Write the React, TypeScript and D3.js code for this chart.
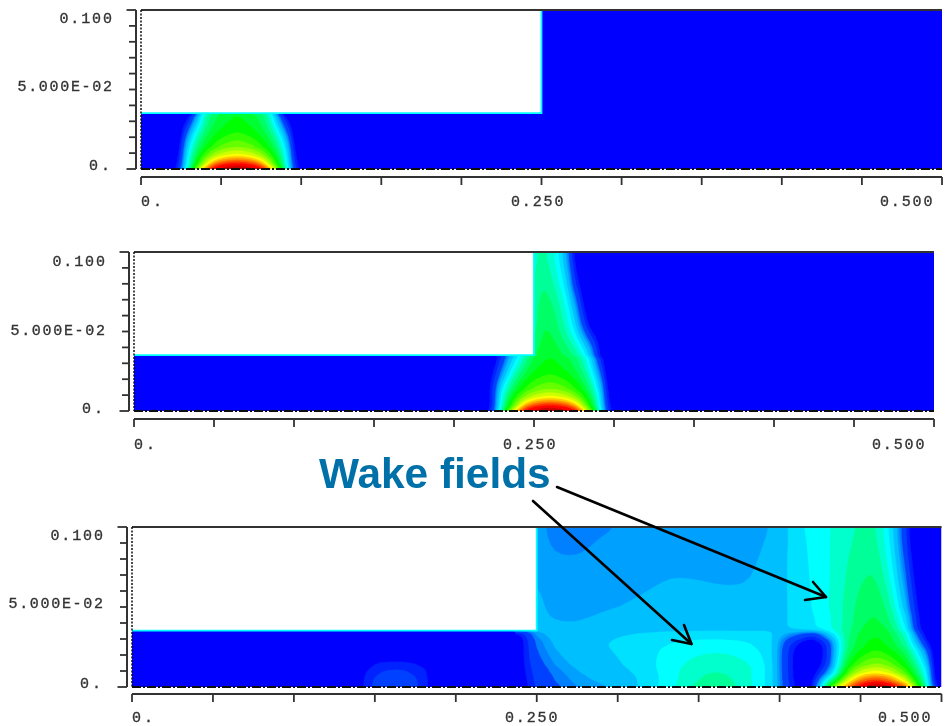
import React from "react";
import * as d3 from "d3";

const WIDTH = 945;
const HEIGHT = 726;

// contour levels (field units) and their fill colours
const levelThresholds = [0.5, 1, 2, 2.5, 3, 4, 5, 6, 7, 8, 9, 10, 11, 12, 13, 14, 15, 16, 17, 18, 19, 20, 21];
const levelColors = ["#0020ff", "#0040ff", "#0080ff", "#00a0ff", "#00bfff", "#00e0ff", "#00ffff", "#00ffcc", "#00ff99", "#00ff66", "#00ff33", "#00ff00", "#33ff00", "#66ff00", "#99ff00", "#ccff00", "#ffff00", "#ffcc00", "#ff9900", "#ff6600", "#ff3300", "#ff0000", "#cc0000"];
const baseColor = "#0000ff";

const xTickValues = [0, 0.05, 0.1, 0.15, 0.2, 0.25, 0.3, 0.35, 0.4, 0.45, 0.5];
const yTickValues = [0, 0.01, 0.02, 0.03, 0.04, 0.05, 0.06, 0.07, 0.08, 0.09, 0.1];

// panel 1: pulse near the left end, under the step
const p1X = [0.02, 0.025, 0.03, 0.035, 0.04, 0.045, 0.05, 0.055, 0.06, 0.065, 0.07, 0.075, 0.08, 0.085, 0.09, 0.095, 0.1];
const p1Y = [0, 0.0019, 0.0038, 0.0063, 0.0088, 0.0138, 0.0226, 0.0327, 0.0352];
const p1Z = [
  [0, 1.5, 7.5, 13, 17.5, 20.8, 21.2, 21.6, 21.8, 21.6, 21.2, 20.8, 17.5, 13, 7.5, 1.5, 0],
  [0, 1.2, 7, 11.8, 15.5, 19.3, 20.5, 21, 21.2, 21, 20.5, 19.3, 15.5, 11.8, 7, 1.2, 0],
  [0, 1, 6.5, 10.6, 14, 17.2, 19, 19.7, 20, 19.7, 19, 17.2, 14, 10.6, 6.5, 1, 0],
  [0, 0.8, 6.2, 10, 12.8, 15, 16.3, 17.2, 17.5, 17.2, 16.3, 15, 12.8, 10, 6.2, 0.8, 0],
  [0, 0.6, 5.8, 9.3, 11.7, 13.6, 14.7, 15.2, 15.5, 15.2, 14.7, 13.6, 11.7, 9.3, 5.8, 0.6, 0],
  [0, 0.3, 5, 8.2, 10, 11.2, 12.2, 12.7, 13, 12.7, 12.2, 11.2, 10, 8.2, 5, 0.3, 0],
  [0, 0, 2.5, 6.3, 8.5, 9.6, 10.3, 10.7, 11, 10.7, 10.3, 9.6, 8.5, 6.3, 2.5, 0, 0],
  [0, 0, 0, 2.5, 6.8, 8.5, 9.3, 9.7, 10, 9.7, 9.3, 8.5, 6.8, 2.5, 0, 0, 0],
  [0, 0, 0, 2, 6.4, 8.2, 9, 9.5, 9.8, 9.5, 9, 8.2, 6.4, 2, 0, 0, 0],
];

// panel 2: pulse at the step, field leaning into the wide section
const p2X = [0.22, 0.225, 0.23, 0.235, 0.24, 0.245, 0.25, 0.255, 0.26, 0.265, 0.27, 0.275, 0.28, 0.285, 0.29, 0.295, 0.3];
const p2Y = [0, 0.0019, 0.0038, 0.0063, 0.0088, 0.0138, 0.0226, 0.0327, 0.0352, 0.0503, 0.0648, 0.0799, 0.1];
const p2Z = [
  [0, 1.5, 7.5, 13, 17.5, 20.8, 21.2, 21.6, 21.8, 21.6, 21.2, 20.8, 17.5, 13, 7.5, 1.5, 0],
  [0, 1.2, 7, 11.8, 15.5, 19.3, 20.5, 21, 21.2, 21, 20.5, 19.3, 15.5, 11.8, 7, 1.2, 0],
  [0, 1, 6.5, 10.6, 14, 17.2, 19, 19.7, 20, 19.7, 19, 17.2, 14, 10.6, 6.5, 1, 0],
  [0, 1, 6.2, 10, 12.8, 15, 16.3, 17.2, 17.5, 17.2, 16.3, 15, 12.8, 10, 6.2, 0.8, 0],
  [0, 1, 5.8, 9.3, 11.7, 13.6, 14.7, 15.2, 15.5, 15.2, 14.7, 13.6, 11.7, 9.3, 5.8, 0.6, 0],
  [0, 1, 5, 8, 10, 11.2, 12.2, 12.7, 13, 12.7, 12.2, 11.2, 10, 8.2, 5, 0.5, 0],
  [0, 0.5, 2.5, 5.5, 8, 9.5, 10.3, 10.7, 11, 10.7, 10.3, 9.6, 8.5, 6.5, 3, 0, 0],
  [0, 0, 1, 3, 5.2, 7.5, 9.2, 9.7, 10, 9.7, 9.2, 8.5, 7, 4.5, 1, 0, 0],
  [0, 0, 0.8, 3, 5, 7.2, 9, 9.5, 9.8, 9.5, 9, 8.2, 6.8, 4, 0.6, 0, 0],
  [7.5, 7.5, 7.5, 7.5, 7.5, 7.5, 7.5, 9, 9, 8.2, 6.8, 5, 2, 0, 0, 0, 0],
  [7.3, 7.3, 7.3, 7.3, 7.3, 7.3, 7.3, 8.6, 8.5, 7.5, 6, 3.5, 0.5, 0, 0, 0, 0],
  [7, 7, 7, 7, 7, 7, 7, 8, 7.5, 6.3, 4.5, 1, 0, 0, 0, 0, 0],
  [6.5, 6.5, 6.5, 6.5, 6.5, 6.5, 6.5, 7.2, 6.5, 5, 2.5, 0, 0, 0, 0, 0, 0],
];

// panel 3: pulse near the far end, wake fields behind it
const p3X = [0.2367, 0.2429, 0.2497, 0.2614, 0.2769, 0.2954, 0.3139, 0.3325, 0.351, 0.3665, 0.3819, 0.3943, 0.4036, 0.4128, 0.4221, 0.4314, 0.4406, 0.4499, 0.4592, 0.4684, 0.4777, 0.4839, 0.4901, 0.495, 0.5];
const p3Y = [0, 0.0019, 0.0038, 0.0063, 0.0088, 0.0138, 0.0226, 0.0283, 0.0333, 0.0365, 0.0409, 0.0503, 0.0648, 0.0799, 0.0912, 0.1];
const p3Z = [
  [0, 0.3, 1.1, 1.8, 2.6, 2.95, 4, 5.7, 7.6, 7.7, 6.1, 4.7, 1.2, 0, 0, 12, 17.5, 20.8, 21.8, 21.2, 18.5, 13, 8, 1, 0],
  [0, 0.3, 1.1, 1.9, 2.7, 3.1, 4, 5.6, 7.5, 7.6, 6.1, 4.7, 1.2, 0, 0, 10, 16, 20.2, 21.4, 20.6, 17, 12, 7, 0.8, 0],
  [0, 0.3, 1.2, 2, 2.8, 3.2, 4, 5.6, 7.3, 7.5, 6.1, 4.7, 1.1, 0, 0, 8, 14.5, 18.5, 20, 18.6, 15, 11, 6.5, 0.5, 0],
  [0, 0.4, 1.2, 2.1, 2.9, 3.4, 4, 5.6, 7.1, 7.3, 6.1, 4.7, 1, 0, 0, 5, 13, 16.8, 18, 17, 13.5, 10, 6, 0.3, 0],
  [0, 0.4, 1.3, 2.2, 3, 3.5, 4.1, 5.6, 7, 7.1, 6.1, 4.7, 1, 0, 0, 3, 11.5, 15, 16, 15, 12, 9, 5.5, 0.2, 0],
  [0, 0.5, 1.5, 2.5, 3.3, 3.7, 4.4, 5.6, 6.6, 6.8, 6.2, 4.7, 0.9, 0, 0, 1, 9.8, 12.4, 13.5, 12.6, 10.3, 8, 4.5, 0, 0],
  [0, 0.5, 2, 3, 3.7, 4, 4.4, 5.4, 5.8, 5.9, 5.2, 4.6, 1, 0, 0, 0.8, 8, 10, 11, 10.2, 8.5, 5.5, 2, 0, 0],
  [0, 0.5, 2.1, 3.2, 3.9, 4, 4.2, 5, 5.2, 5.2, 5, 4.5, 1.5, 0.3, 0, 1.2, 7.8, 9.6, 10.4, 9.6, 7.2, 3.5, 0.5, 0, 0],
  [0, 0.8, 2.8, 3.4, 3.7, 3.9, 4.1, 4.4, 4.5, 4.5, 4.4, 4.3, 3, 2, 0.8, 4.5, 7.5, 9.3, 10, 9.3, 6.5, 2, 0, 0, 0],
  [3.4, 3.4, 3.4, 3.2, 3.1, 3.3, 3.4, 3.5, 3.6, 3.6, 3.6, 3.8, 3.9, 4.5, 5, 6, 7.3, 9, 9.8, 8.8, 5, 1, 0, 0, 0],
  [3.1, 3.1, 3.1, 3, 3, 3.2, 3.3, 3.4, 3.45, 3.5, 3.5, 3.7, 3.9, 4.4, 4.9, 5.8, 7.2, 8.7, 9.3, 8.3, 4.6, 0.8, 0, 0, 0],
  [3.15, 3.15, 3.15, 2.85, 2.8, 2.95, 3.1, 3.2, 3.2, 3.2, 3.2, 3.5, 3.9, 4.5, 5.2, 6.1, 7.2, 8.5, 9, 7.5, 3, 0.5, 0, 0, 0],
  [3.02, 3.02, 3.02, 2.75, 2.7, 2.75, 2.9, 3.05, 3.02, 2.97, 2.98, 3.4, 3.9, 4.6, 5.2, 6, 7, 8, 8.4, 6.3, 2, 0.2, 0, 0, 0],
  [2.9, 2.9, 2.9, 2.55, 2.52, 2.65, 2.8, 2.9, 2.85, 2.8, 2.85, 3.2, 3.9, 4.7, 5.3, 6, 6.9, 7.5, 7.8, 5.5, 1.2, 0, 0, 0, 0],
  [2.8, 2.8, 2.8, 2.3, 2.4, 2.6, 2.7, 2.8, 2.8, 2.75, 2.8, 3.05, 3.8, 4.8, 5.3, 6, 6.7, 7.3, 7.5, 5, 0.8, 0, 0, 0, 0],
  [2.7, 2.7, 2.7, 2.3, 2.3, 2.45, 2.7, 2.75, 2.75, 2.7, 2.75, 2.95, 3.8, 4.9, 5.4, 6, 6.6, 7.2, 7.3, 4.8, 0.7, 0, 0, 0, 0],
];

// panel 3: small bump in the narrow section
const bumpX = [0.138, 0.144, 0.15, 0.156, 0.1627, 0.169, 0.175, 0.181, 0.187];
const bumpY = [0, 0.005, 0.0107, 0.0157, 0.019];
const bumpZ = [
  [0, 0.6, 1.2, 1.4, 1.5, 1.4, 1.1, 0.7, 0],
  [0, 0.6, 1.1, 1.3, 1.4, 1.3, 1.1, 0.7, 0],
  [0, 0.4, 0.8, 1, 1.05, 1, 0.8, 0.6, 0],
  [0, 0, 0.4, 0.5, 0.52, 0.52, 0.4, 0.2, 0],
  [0, 0, 0, 0, 0, 0, 0, 0, 0],
];

const stepX = 0.25;
const stepY = 0.0352;
const REFINE = 4;

type Grid = { xs: number[]; ys: number[]; z: number[][] };
type Panel = {
  left: number; right: number; top: number; bottom: number;
  axisX: number; axisY: number; xLabelY: number;
  yLabelRight: number; yLabelBase: [number, number, number];
  xLabelLeft: [number, number, number];
  grids: Grid[];
};

const panels: Panel[] = [
  { left: 141, right: 942, top: 10, bottom: 169, axisX: 136, axisY: 177, xLabelY: 206, yLabelRight: 112, yLabelBase: [170, 91, 23], xLabelLeft: [141, 511, 880], grids: [{ xs: p1X, ys: p1Y, z: p1Z }] },
  { left: 134, right: 934, top: 252, bottom: 411, axisX: 129, axisY: 419, xLabelY: 449, yLabelRight: 105, yLabelBase: [413, 335, 266], xLabelLeft: [134, 503, 872], grids: [{ xs: p2X, ys: p2Y, z: p2Z }] },
  { left: 132, right: 941.5, top: 527, bottom: 687, axisX: 127, axisY: 694, xLabelY: 722, yLabelRight: 103, yLabelBase: [688, 608, 540], xLabelLeft: [132, 505, 878], grids: [{ xs: p3X, ys: p3Y, z: p3Z }, { xs: bumpX, ys: bumpY, z: bumpZ }] },
];

// Refine the read-off grid bilinearly and soften it so the contours run smoothly.
function refine(grid: Grid) {
  const n0 = grid.xs.length;
  const m0 = grid.ys.length;
  const n = (n0 - 1) * REFINE + 1;
  const m = (m0 - 1) * REFINE + 1;
  const data = new Float64Array(n * m);
  for (let j = 0; j < m; j++) {
    const fy = j / REFINE;
    const j0 = Math.min(Math.floor(fy), m0 - 2);
    const ty = fy - j0;
    for (let i = 0; i < n; i++) {
      const fx = i / REFINE;
      const i0 = Math.min(Math.floor(fx), n0 - 2);
      const tx = fx - i0;
      const a = grid.z[j0][i0] * (1 - tx) + grid.z[j0][i0 + 1] * tx;
      const b = grid.z[j0 + 1][i0] * (1 - tx) + grid.z[j0 + 1][i0 + 1] * tx;
      data[j * n + i] = a * (1 - ty) + b * ty;
    }
  }
  d3.blur2({ data, width: n, height: m }, 1);
  return { n, m, data };
}

function GridContours({ grid, x, y }: { grid: Grid; x: d3.ScaleLinear<number, number>; y: d3.ScaleLinear<number, number> }) {
  const { n, m, data } = refine(grid);
  const sx = d3.scaleLinear().domain(d3.range(grid.xs.length)).range(grid.xs.map((v) => x(v))).clamp(true);
  const sy = d3.scaleLinear().domain(d3.range(grid.ys.length)).range(grid.ys.map((v) => y(v))).clamp(true);
  const path = d3.geoPath(
    d3.geoTransform({
      point(px: number, py: number) {
        (this as any).stream.point(sx((px - 0.5) / REFINE), sy((py - 0.5) / REFINE));
      },
    })
  );
  const contours = d3.contours().size([n, m]).thresholds(levelThresholds)(Array.from(data));
  return (
    <g>
      {contours.map((c, i) => (
        <path key={i} d={path(c as any) || ""} fill={levelColors[i]} stroke={levelColors[i]} strokeWidth={0.3} />
      ))}
    </g>
  );
}

function PlotPanel({ panel, index }: { panel: Panel; index: number }) {
  const x = d3.scaleLinear().domain([0, 0.5]).range([panel.left, panel.right]);
  const y = d3.scaleLinear().domain([0, 0.1]).range([panel.bottom, panel.top]);
  const axisColor = "#333";
  const monoStyle = { fontFamily: "'Liberation Mono', monospace", fontSize: 15, fill: "#333", stroke: "#333", strokeWidth: 0.35 };
  const yLabels = ["0.", "5.000E-02", "0.100"];
  const xLabels = ["0.", "0.250", "0.500"];
  return (
    <g>
      <clipPath id={`clip${index}`}>
        <rect x={panel.left} y={panel.top} width={panel.right - panel.left} height={panel.bottom - panel.top} />
      </clipPath>
      <g clipPath={`url(#clip${index})`}>
        <rect x={panel.left} y={panel.top} width={panel.right - panel.left} height={panel.bottom - panel.top} fill={baseColor} />
        {panel.grids.map((g, i) => (
          <GridContours key={i} grid={g} x={x} y={y} />
        ))}
        <rect x={x(0)} y={y(0.1)} width={x(stepX) - x(0)} height={y(stepY) - y(0.1)} fill="#fff" />
      </g>
      <path d={`M${x(0)},${y(stepY)}H${x(stepX)}V${y(0.1)}`} fill="none" stroke="#00ffff" strokeWidth={1.8} />
      <line x1={panel.left} x2={panel.right} y1={panel.top} y2={panel.top} stroke={axisColor} strokeWidth={2} />
      <line x1={panel.left} x2={panel.right} y1={panel.bottom} y2={panel.bottom} stroke="#111" strokeWidth={1.8} strokeDasharray="9 2 2 2" />
      <line x1={panel.left} x2={panel.left} y1={panel.top} y2={panel.bottom} stroke="#111" strokeWidth={1.5} strokeDasharray="2 1.5" />

      <line x1={panel.axisX} x2={panel.axisX} y1={panel.top} y2={panel.bottom} stroke={axisColor} strokeWidth={2} />
      {yTickValues.map((v, i) => (
        <line key={i} x1={panel.axisX - (v === 0 || v === 0.1 ? 9.5 : 7)} x2={panel.axisX} y1={y(v)} y2={y(v)} stroke={axisColor} strokeWidth={1.8} />
      ))}
      <line x1={panel.left} x2={panel.right} y1={panel.axisY} y2={panel.axisY} stroke={axisColor} strokeWidth={2} />
      {xTickValues.map((v, i) => (
        <line key={i} x1={x(v)} x2={x(v)} y1={panel.axisY} y2={panel.axisY + 8} stroke={axisColor} strokeWidth={1.8} />
      ))}

      {yLabels.map((t, i) => {
        const w = t.length * 10.5;
        return (
          <text key={t} x={panel.yLabelRight - (i === 0 ? 2 : 0) - w} y={panel.yLabelBase[i]} textLength={w} lengthAdjust="spacing" style={monoStyle}>
            {t}
          </text>
        );
      })}
      {xLabels.map((t, i) => (
        <text key={t} x={panel.xLabelLeft[i]} y={panel.xLabelY} textLength={t.length * 10.5} lengthAdjust="spacing" style={monoStyle}>
          {t}
        </text>
      ))}
    </g>
  );
}

const arrows = [
  { from: [557, 487], to: [826, 597], barbs: [[813, 582], [805, 600]] },
  { from: [533, 501], to: [691.5, 644], barbs: [[684, 625], [672, 640]] },
];

export default function App() {
  return (
    <svg width={WIDTH} height={HEIGHT} viewBox={`0 0 ${WIDTH} ${HEIGHT}`} style={{ position: "absolute", left: 0, top: 0, display: "block" }}>
      <defs>
        <filter id="soft" x="0" y="0" width="100%" height="100%" filterUnits="userSpaceOnUse">
          <feGaussianBlur stdDeviation="0.55" />
        </filter>
      </defs>
      <rect width={WIDTH} height={HEIGHT} fill="#fff" />
      <g filter="url(#soft)">
        {panels.map((p, i) => (
          <PlotPanel key={i} panel={p} index={i} />
        ))}
      </g>
      <text x={319} y={488} style={{ fontFamily: "'Liberation Sans', Arial, sans-serif", fontWeight: 700, fontSize: 42.4, fill: "#0070a8" }}>
        Wake fields
      </text>
      {arrows.map((a, i) => (
        <g key={i} fill="none" stroke="#000" strokeWidth={2.6} strokeLinecap="round" strokeLinejoin="round">
          <line x1={a.from[0]} y1={a.from[1]} x2={a.to[0]} y2={a.to[1]} />
          <polyline points={`${a.barbs[0].join(",")} ${a.to.join(",")} ${a.barbs[1].join(",")}`} />
        </g>
      ))}
    </svg>
  );
}
